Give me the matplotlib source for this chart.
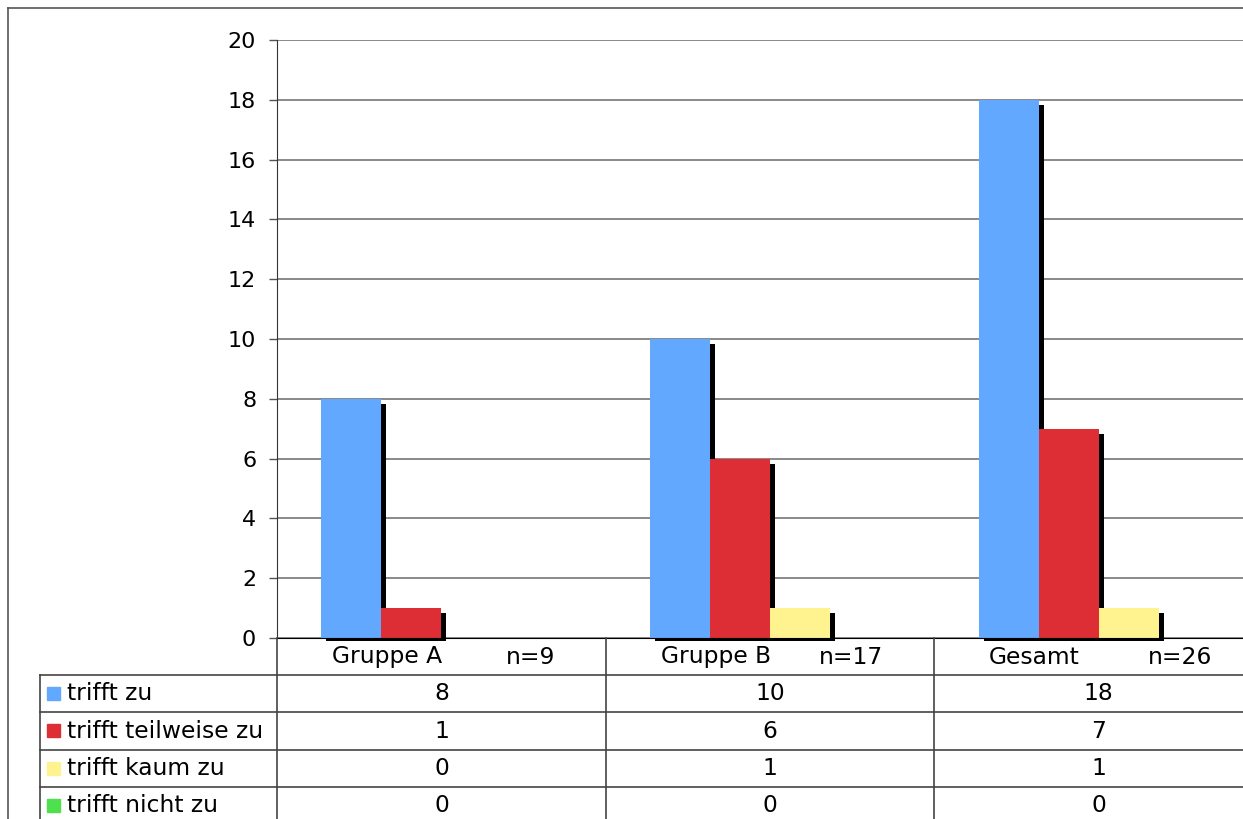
import matplotlib.pyplot as plt
from matplotlib.lines import Line2D
from matplotlib.patches import Rectangle
import numpy as np

# Werte je Gruppe und Antwortkategorie
groups = ["Gruppe A", "Gruppe B", "Gesamt"]
group_n = ["n=9", "n=17", "n=26"]
answers = ["trifft zu", "trifft teilweise zu", "trifft kaum zu", "trifft nicht zu"]
trifft_zu = [8, 10, 18]
trifft_teilweise = [1, 6, 7]
trifft_kaum = [0, 1, 1]
trifft_nicht = [0, 0, 0]
colors = ["#62a8ff", "#dd2d35", "#fff38f", "#4fe050"]

series = [trifft_zu, trifft_teilweise, trifft_kaum, trifft_nicht]

W, H = 1243, 819
fig = plt.figure(figsize=(W / 100, H / 100), dpi=100)
plt.rcParams['font.family'] = ['DejaVu Sans']
fs = 16.8

def fx(px):
    return px / W

def fy(py):
    return 1 - py / H

# plot area (runs a little past the right edge)
x0, x1, y_top, y_bot = 277, 1263, 40, 638
ax = fig.add_axes([fx(x0), fy(y_bot), fx(x1 - x0), (y_bot - y_top) / H])
ax.set_xlim(-0.5, 2.5)
ax.set_ylim(0, 20)

bw = 0.1825
x = np.arange(len(groups))
px_per_cat = (x1 - x0) / 3
px_per_unit = (y_bot - y_top) / 20
sdx = 5 / px_per_cat
sdy = 5 / px_per_unit
sdb = 2.5 / px_per_unit

for k, vals in enumerate(series):
    pos = x + (k - 1.5) * bw
    for p, v in zip(pos, vals):
        if v > 0:
            # black drop shadow behind each bar
            ax.add_patch(Rectangle((p - bw / 2 + sdx, -sdb), bw, v - sdy + sdb, color="black",
                                   zorder=2, clip_on=False, linewidth=0))
    ax.bar(pos, vals, width=bw, color=colors[k], zorder=3, linewidth=0)

ax.set_yticks(range(0, 21, 2))
ax.set_xticks([])
ax.yaxis.grid(True, color="#808080", linewidth=1.3)
ax.set_axisbelow(True)
ax.spines["top"].set_visible(False)
ax.spines["right"].set_visible(False)
ax.spines["left"].set_color("#333333")
ax.spines["bottom"].set_color("black")
ax.spines["bottom"].set_zorder(5)
ax.tick_params(axis="y", length=6, width=1, labelsize=16, pad=9, color="#555555")

# data table below the plot
line_c = "#444444"
col_x = [x0, 606, 934, x1]
rows_y = [675, 712, 750, 787]

def hline(y, xa, xb):
    fig.add_artist(Line2D([fx(xa), fx(xb)], [fy(y), fy(y)], color=line_c, linewidth=1.2))

def vline(xv, ya, yb):
    fig.add_artist(Line2D([fx(xv), fx(xv)], [fy(ya), fy(yb)], color=line_c, linewidth=1.2))

for ry in rows_y:
    hline(ry, 40, W)
for cx in col_x[:3]:
    vline(cx, y_bot, H)
vline(40, rows_y[0], H)

for i, g in enumerate(groups):
    fig.text(fx(col_x[i] + 55), fy(657), g, ha="left", va="center", fontsize=fs)
    fig.text(fx(col_x[i + 1] - 51), fy(657), group_n[i], ha="right", va="center", fontsize=fs)

row_centers = [693.5, 731, 768.5, 805.5]
for k, (label, vals) in enumerate(zip(answers, series)):
    yc = row_centers[k]
    fig.add_artist(Rectangle((fx(47), fy(yc + 6)), fx(13), 13 / H, color=colors[k]))
    fig.text(fx(67), fy(yc), label, ha="left", va="center", fontsize=fs)
    for i, v in enumerate(vals):
        cx = (col_x[i] + col_x[i + 1]) / 2
        fig.text(fx(cx), fy(yc), str(v), ha="center", va="center", fontsize=fs)

# outer frame
fig.add_artist(Line2D([fx(8), fx(8)], [fy(8), 0], color="#555555", linewidth=1.2))
fig.add_artist(Line2D([fx(8), 1], [fy(8), fy(8)], color="#555555", linewidth=1.2))

fig.savefig("out.png", dpi=100)
